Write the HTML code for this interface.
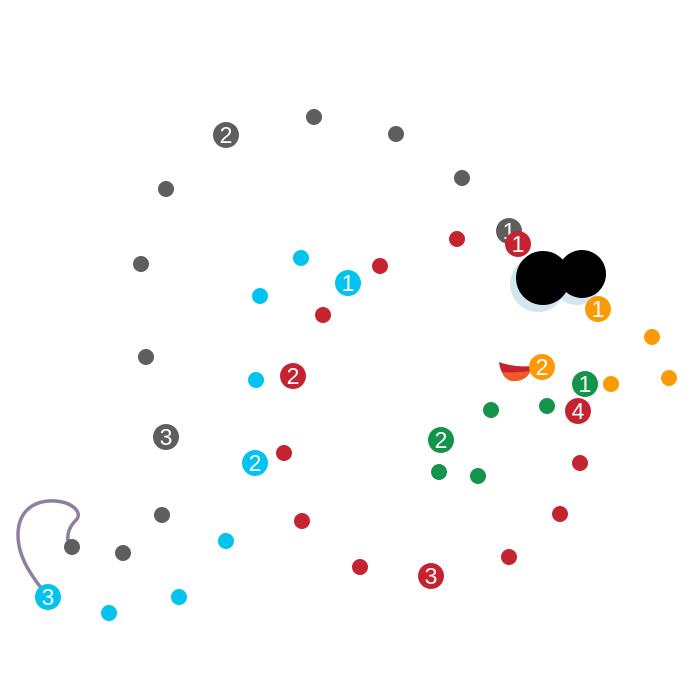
<!DOCTYPE html>
<html><head><meta charset="utf-8"><style>
html,body{margin:0;padding:0;background:#fff;width:700px;height:700px;overflow:hidden}
svg{display:block}
text{font-family:"Liberation Sans","DejaVu Sans",sans-serif;font-size:23px;fill:#fff;text-anchor:middle;dominant-baseline:central}
</style></head><body>
<svg width="700" height="700" viewBox="0 0 700 700">
<path d="M48,597 C35,580 18,560 18,535 C18,510 35,500 55,501 C72,502 82,512 77,519 C70,526 67,532 68,542" fill="none" stroke="#8e7fa0" stroke-width="3.5"/>
<g fill="#5e5e5e">
<circle cx="314" cy="117" r="8"/><circle cx="396" cy="134" r="8"/><circle cx="462" cy="178" r="8"/>
<circle cx="166" cy="189" r="8"/><circle cx="141" cy="264" r="8"/><circle cx="146" cy="357" r="8"/>
<circle cx="162" cy="515" r="8"/><circle cx="123" cy="553" r="8"/><circle cx="72" cy="547" r="8"/>
<circle cx="226" cy="135" r="13"/><circle cx="166" cy="437" r="13"/><circle cx="509" cy="231" r="13"/>
</g>
<text x="226" y="135">2</text><text x="166" y="437">3</text><text x="509" y="231">1</text>
<g fill="#00c3f0">
<circle cx="301" cy="258" r="8"/><circle cx="260" cy="296" r="8"/><circle cx="256" cy="380" r="8"/>
<circle cx="226" cy="541" r="8"/><circle cx="179" cy="597" r="8"/><circle cx="109" cy="613" r="8"/>
<circle cx="348" cy="283" r="13"/><circle cx="255" cy="463" r="13"/><circle cx="48" cy="597" r="13"/>
</g>
<text x="348" y="283">1</text><text x="255" y="463">2</text><text x="48" y="597">3</text>
<g fill="#c4232f">
<circle cx="457" cy="239" r="8"/><circle cx="380" cy="266" r="8"/><circle cx="323" cy="315" r="8"/>
<circle cx="284" cy="453" r="8"/><circle cx="302" cy="521" r="8"/><circle cx="360" cy="567" r="8"/>
<circle cx="509" cy="557" r="8"/><circle cx="560" cy="514" r="8"/><circle cx="580" cy="463" r="8"/>
<circle cx="518" cy="244" r="13"/><circle cx="293" cy="376" r="13"/><circle cx="431" cy="576" r="13"/><circle cx="578" cy="411" r="13"/>
</g>
<text x="518" y="244">1</text><text x="293" y="376">2</text><text x="431" y="576">3</text><text x="578" y="411">4</text>
<g fill="#14934a">
<circle cx="491" cy="410" r="8"/><circle cx="547" cy="406" r="8"/><circle cx="439" cy="472" r="8"/><circle cx="478" cy="476" r="8"/>
<circle cx="585" cy="384" r="13"/><circle cx="441" cy="440" r="13"/>
</g>
<text x="585" y="384">1</text><text x="441" y="440">2</text>
<circle cx="538" cy="284" r="28" fill="#d2e6f0"/>
<circle cx="577" cy="280" r="25" fill="#d2e6f0"/>
<circle cx="543" cy="278" r="27" fill="#000"/>
<circle cx="582" cy="274" r="24" fill="#000"/>
<path d="M499,362 C510,366 522,367 532,366 L530,372 C526,380 518,382 510,380 C503,377 500,370 499,362 Z" fill="#c4232f"/>
<path d="M502,372 C512,373 522,372 530,371 C527,379 519,382 511,381 C506,379 503,376 502,372 Z" fill="#f15a29"/>
<g fill="#fb9a06">
<circle cx="652" cy="337" r="8"/><circle cx="669" cy="378" r="8"/><circle cx="611" cy="384" r="8"/>
<circle cx="598" cy="309" r="13"/><circle cx="542" cy="367" r="13"/>
</g>
<text x="598" y="309">1</text><text x="542" y="367">2</text>
</svg>
</body></html>
